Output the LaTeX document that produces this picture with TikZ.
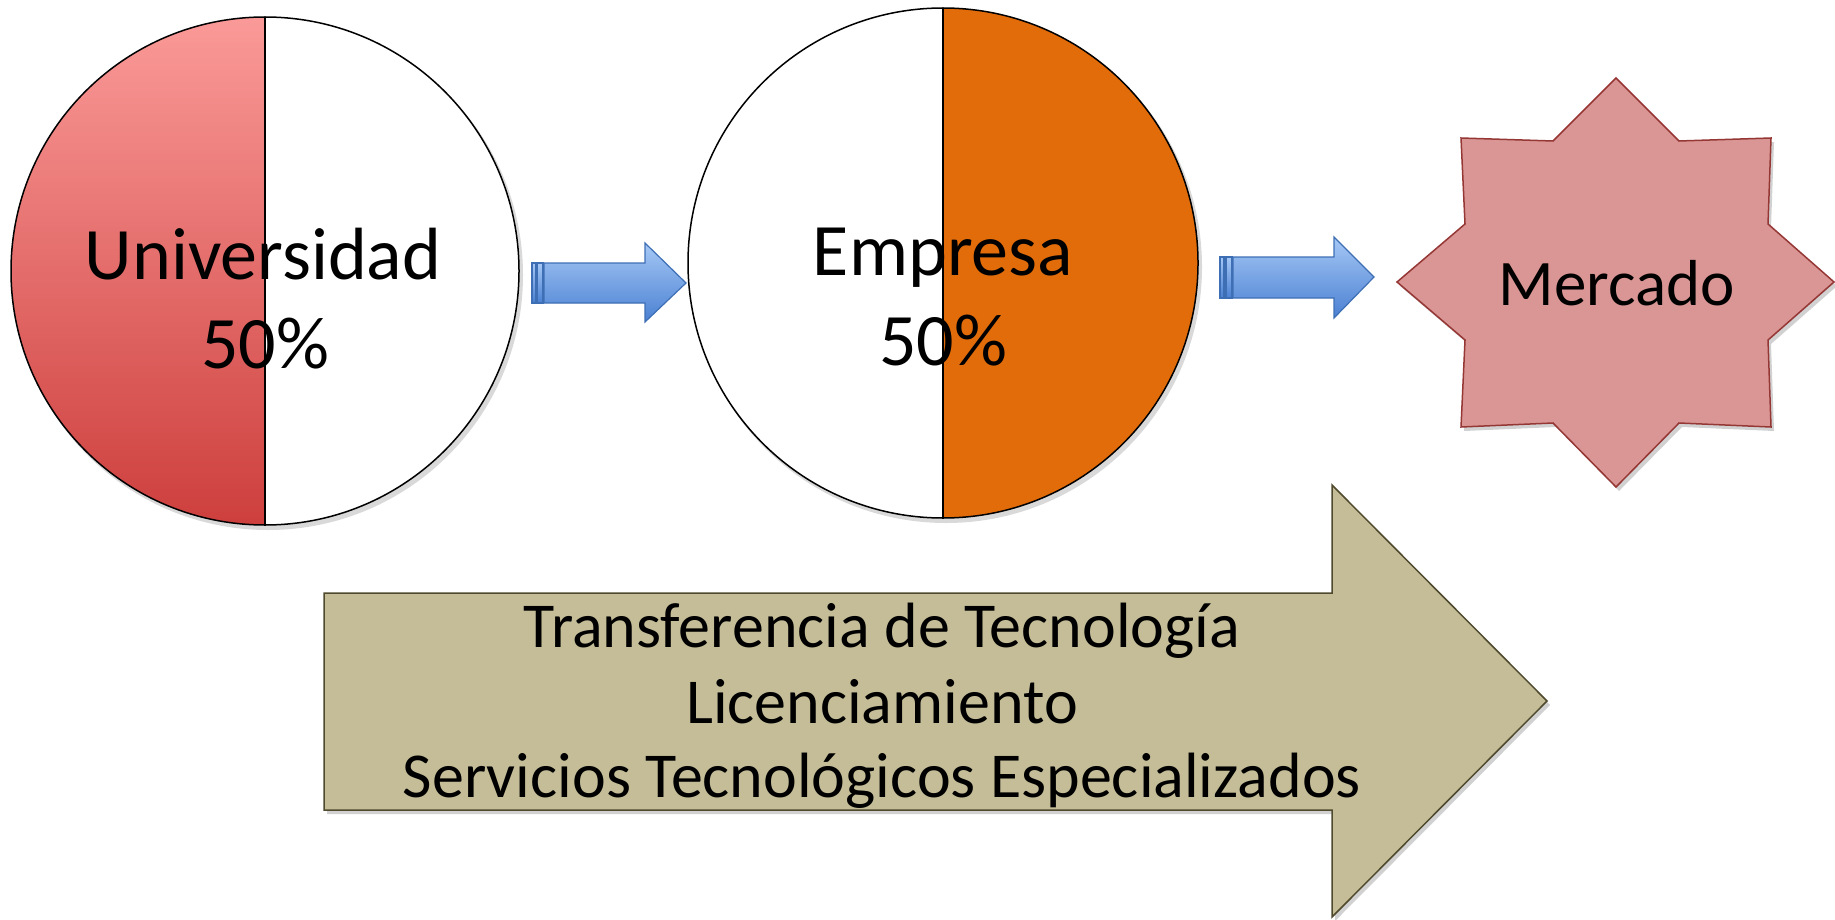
\documentclass[tikz,border=0pt]{standalone}
\usepackage{fontspec}
\setmainfont{Carlito}
\usetikzlibrary{shadows}
\definecolor{unitop}{HTML}{FA9A98}
\definecolor{unibot}{HTML}{CD3F3D}
\definecolor{empfill}{HTML}{E36C0A}
\definecolor{bluetop}{HTML}{A6C8F5}
\definecolor{bluebot}{HTML}{4A80D2}
\definecolor{blueline}{HTML}{3E6FB5}
\definecolor{starfill}{HTML}{D99694}
\definecolor{starline}{HTML}{953735}
\definecolor{bigfill}{HTML}{C4BD97}
\definecolor{bigline}{HTML}{4F4A2D}
\tikzset{
  softshadow/.style={drop shadow={shadow xshift=3pt,shadow yshift=-4pt,opacity=0.18,fill=black}},
  bluearr/.style={top color=bluetop,bottom color=bluebot,draw=blueline,line width=1.2pt,line join=miter},
  bigtxt/.style={anchor=base,font=\fontsize{64}{76}\selectfont,inner sep=0pt},
  pietxt/.style={anchor=base,font=\fontsize{74}{89}\selectfont,inner sep=0pt},
}
\begin{document}
\begin{tikzpicture}[x=1pt,y=1pt]
\useasboundingbox[fill=white] (0,0) rectangle (1835,-920);

% Circle 1 (Universidad)
\coordinate (c1) at (265,-271);
\fill[black,opacity=0.15] (268,-275) circle[radius=255];
\fill[white] (c1) circle[radius=254];
\path[top color=unitop,bottom color=unibot] (265,-17) arc[start angle=90,end angle=270,radius=254] -- cycle;
\draw[line width=1.5pt] (c1) circle[radius=254];
\draw[line width=1.5pt] (265,-17) -- (265,-525);
\node[pietxt] (uni) at (263,-279) {Universidad};
\node[pietxt] (uni50) at (265,-368) {50\%};

% Circle 2 (Empresa)
\coordinate (c2) at (943,-263);
\fill[black,opacity=0.15] (946,-267) circle[radius=256];
\fill[white] (c2) circle[radius=255];
\fill[empfill] (943,-8) arc[start angle=90,end angle=-90,radius=255] -- cycle;
\draw[line width=1.5pt] (c2) circle[radius=255];
\draw[line width=1.5pt] (943,-8) -- (943,-518);
\node[pietxt] (emp) at (943,-275) {Empresa};
\node[pietxt] (emp50) at (943,-365) {50\%};

% Blue striped arrow 1
\path[bluearr] (532,-263) rectangle (536,-303);
\path[bluearr] (537,-263) rectangle (543,-303);
\path[bluearr] (544,-263) -- (645,-263) -- (645,-243) -- (686,-283) -- (645,-322) -- (645,-303) -- (544,-303) -- cycle;

% Blue striped arrow 2
\path[bluearr] (1220,-257) rectangle (1224,-298);
\path[bluearr] (1226,-257) rectangle (1232,-298);
\path[bluearr] (1233,-257) -- (1334,-257) -- (1334,-237) -- (1374,-277) -- (1334,-318) -- (1334,-298) -- (1233,-298) -- cycle;

% Star (Mercado)
\path[fill=starfill,draw=starline,line width=1.5pt,line join=miter,softshadow]
  (1616,-78) -- (1679,-141) -- (1771,-138) -- (1768,-224) -- (1834,-282)
  -- (1768,-340) -- (1771,-427) -- (1679,-423) -- (1616,-487) -- (1553,-423)
  -- (1461,-427) -- (1465,-340) -- (1397,-282) -- (1465,-224) -- (1461,-138)
  -- (1553,-141) -- cycle;
\node[anchor=base,font=\fontsize{65}{78}\selectfont,inner sep=0pt] (mer) at (1617,-305) {Mercado};

% Big arrow
\path[fill=bigfill,draw=bigline,line width=1.5pt,line join=miter,softshadow]
  (324,-593) -- (1332,-593) -- (1332,-485) -- (1547,-701) -- (1332,-917)
  -- (1332,-810) -- (324,-810) -- cycle;
\node[bigtxt] (t1) at (882,-647) {Transferencia de Tecnología};
\node[bigtxt] (t2) at (882,-723) {Licenciamiento};
\node[bigtxt] (t3) at (882,-797) {Servicios Tecnológicos Especializados};
\end{tikzpicture}
\end{document}
